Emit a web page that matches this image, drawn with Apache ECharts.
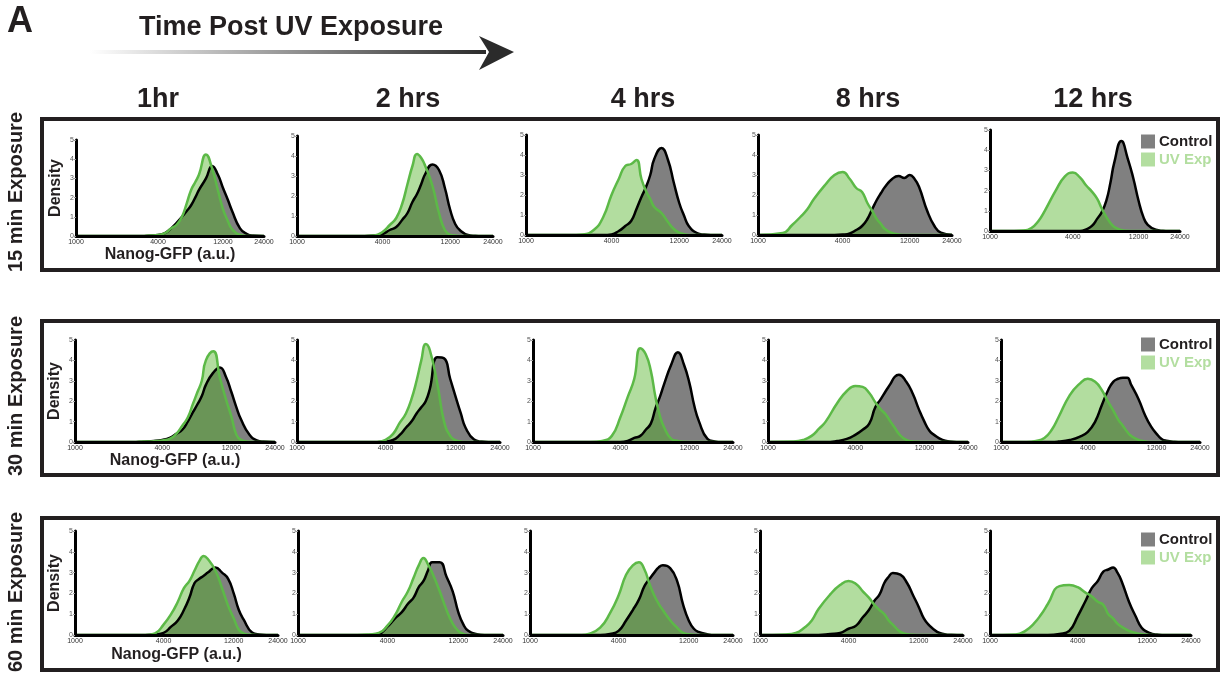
<!DOCTYPE html>
<html>
<head>
<meta charset="utf-8">
<script src="https://cdn.jsdelivr.net/npm/echarts@6/dist/echarts.min.js"></script>
<style>
html, body { margin: 0; padding: 0; background: #fff; }
#chart { width: 1225px; height: 675px; }
</style>
</head>
<body>
<div id="chart"></div>
<script>
var myChart = echarts.init(document.getElementById('chart'));

// Nanog-GFP values at which the densities were read (a.u.)
var gfpGrid = [1000, 1500, 1750, 2000, 2250, 2500, 3000, 3500, 4000, 4500, 5000, 5500, 6000, 6500,
    7000, 7500, 8000, 9000, 10000, 11000, 12000, 13000, 14000, 16000, 18000, 20000, 24000];
var xTicks = [1000, 4000, 12000, 24000];
var timeLabels = ['1hr', '2 hrs', '4 hrs', '8 hrs', '12 hrs'];
var doseLabels = ['15 min Exposure', '30 min Exposure', '60 min Exposure'];
var seriesNames = ['Control', 'UV Exp'];

// 15 min exposure
var ctl15_1h = [0,0,0,0,0,0,0,0.02,0.05,0.15,0.4,0.7,1.0,1.3,1.6,2.0,2.4,3.0,3.65,3.2,2.5,1.9,1.3,0.4,0.1,0.02,0];
var uv15_1h = [0,0,0,0,0,0,0,0.02,0.05,0.15,0.4,0.6,1.0,1.7,2.4,2.8,3.2,4.25,3.5,2.4,1.4,0.8,0.35,0.05,0,0,0];
var ctl15_2h = [0,0,0,0,0,0,0,0.02,0.1,0.3,0.45,0.8,1.15,1.7,2.1,2.6,3.1,3.58,3.3,2.4,1.3,0.6,0.3,0.05,0.01,0,0];
var uv15_2h = [0,0,0,0,0,0,0,0.02,0.2,0.55,0.9,1.6,2.6,3.5,4.1,3.9,3.5,2.5,1.15,0.3,0.06,0.02,0,0,0,0,0];
var ctl15_4h = [0,0,0,0,0,0,0,0,0.03,0.2,0.45,0.7,1.3,1.9,2.4,3.0,3.8,4.35,3.75,2.6,1.6,0.95,0.45,0.1,0.02,0,0];
var uv15_4h = [0,0,0,0,0,0.02,0.25,0.9,2.0,2.8,3.45,3.55,3.75,2.8,2.2,1.8,1.4,1.1,0.65,0.3,0.12,0.04,0,0,0,0,0];
var ctl15_8h = [0,0,0,0,0,0,0,0,0.02,0.08,0.25,0.45,0.8,1.3,1.75,2.1,2.4,2.8,2.95,2.85,3.0,2.8,2.4,1.2,0.45,0.12,0.01];
var uv15_8h = [0,0.1,0.5,0.9,1.3,1.8,2.5,3.0,3.15,2.8,2.35,2.15,1.6,1.2,0.8,0.55,0.3,0.1,0.03,0,0,0,0,0,0,0,0];
var ctl15_12h = [0,0,0,0,0,0,0,0,0,0,0.08,0.25,0.6,0.95,1.5,2.4,3.4,4.45,3.6,2.6,1.5,0.7,0.3,0.06,0.01,0,0];
var uv15_12h = [0,0,0.02,0.15,0.5,1.0,2.0,2.7,2.9,2.65,2.25,1.95,1.6,1.1,0.7,0.4,0.2,0.05,0.01,0,0,0,0,0,0,0,0];

// 30 min exposure
var ctl30_1h = [0,0,0,0,0,0,0.03,0.05,0.1,0.2,0.4,0.6,1.0,1.45,1.85,2.25,2.8,3.4,3.65,3.2,2.45,1.7,1.1,0.35,0.08,0.02,0];
var uv30_1h = [0,0,0,0,0,0,0.02,0.04,0.08,0.15,0.4,0.8,1.2,1.85,2.45,3.0,4.0,4.45,3.15,2.1,1.25,0.35,0.1,0.01,0,0,0];
var ctl30_2h = [0,0,0,0,0,0,0,0,0.03,0.1,0.35,0.7,1.0,1.4,1.7,2.0,2.6,4.15,4.1,3.1,2.2,1.4,0.7,0.12,0.02,0,0];
var uv30_2h = [0,0,0,0,0,0,0,0,0.1,0.4,0.95,1.4,2.1,3.0,4.0,4.8,4.5,2.85,1.0,0.3,0.08,0.02,0,0,0,0,0];
var ctl30_4h = [0,0,0,0,0,0,0,0,0,0.05,0.2,0.3,0.6,0.9,1.65,2.2,2.8,3.8,4.4,3.8,2.9,1.75,1.0,0.15,0.03,0,0];
var uv30_4h = [0,0,0,0,0,0,0.05,0.3,1.2,2.2,3.1,4.6,4.3,3.5,2.2,1.3,0.75,0.15,0.05,0.01,0,0,0,0,0,0,0];
var ctl30_8h = [0,0,0,0,0,0,0.05,0.15,0.35,0.6,0.9,1.7,2.1,2.5,2.85,3.2,3.3,2.95,2.35,1.6,1.0,0.55,0.35,0.1,0.02,0,0];
var uv30_8h = [0,0.02,0.1,0.3,0.65,1.0,1.9,2.5,2.75,2.7,2.4,1.95,1.6,1.35,1.0,0.7,0.4,0.1,0.03,0.01,0,0,0,0,0,0,0];
var ctl30_12h = [0,0,0,0,0,0.02,0.1,0.25,0.5,1.0,1.8,2.5,2.95,3.1,3.15,3.15,2.8,2.1,1.3,0.75,0.4,0.15,0.06,0.01,0,0,0];
var uv30_12h = [0,0,0.05,0.2,0.6,1.2,2.3,2.85,3.1,2.95,2.55,2.0,1.55,1.1,0.8,0.5,0.3,0.1,0.03,0,0,0,0,0,0,0,0];

// 60 min exposure
var ctl60_1h = [0,0,0,0,0,0,0,0.03,0.1,0.4,0.7,1.2,1.8,2.5,2.7,2.85,3.0,3.25,3.0,2.7,2.0,1.2,0.75,0.12,0.02,0,0];
var uv60_1h = [0,0,0,0,0,0,0,0.08,0.5,1.0,1.6,2.25,2.6,3.1,3.55,3.8,3.65,3.1,2.25,1.4,0.8,0.25,0.08,0.01,0,0,0];
var ctl60_2h = [0,0,0,0,0,0,0,0.05,0.4,0.8,1.1,1.5,1.8,2.3,2.6,3.1,3.5,3.5,2.8,2.1,1.1,0.5,0.2,0.04,0,0,0];
var uv60_2h = [0,0,0,0,0,0,0.03,0.1,0.45,0.95,1.6,2.1,2.75,3.35,3.7,3.4,3.0,2.1,1.2,0.55,0.2,0.05,0,0,0,0,0];
var ctl60_4h = [0,0,0,0,0,0,0,0.05,0.2,0.7,1.2,1.7,2.35,2.7,3.0,3.25,3.35,3.2,2.6,1.45,0.7,0.3,0.15,0.04,0,0,0];
var uv60_4h = [0,0,0,0,0,0.05,0.35,1.05,1.9,2.9,3.35,3.5,3.15,2.45,1.9,1.5,1.2,0.7,0.35,0.1,0.04,0.01,0,0,0,0,0];
var ctl60_8h = [0,0,0,0,0,0,0.05,0.1,0.3,0.45,0.85,1.2,1.65,1.95,2.5,2.8,2.98,2.9,2.5,1.9,1.35,0.8,0.5,0.15,0.04,0.01,0];
var uv60_8h = [0,0.03,0.1,0.35,0.7,1.25,1.95,2.4,2.6,2.45,2.1,1.8,1.45,1.2,1.0,0.7,0.5,0.15,0.04,0.01,0,0,0,0,0,0,0];
var ctl60_12h = [0,0,0,0,0,0,0.05,0.2,0.9,1.6,2.25,2.6,3.05,3.15,3.25,3.0,2.6,1.6,0.9,0.35,0.15,0.05,0.02,0,0,0,0];
var uv60_12h = [0,0.03,0.2,0.55,1.0,1.5,2.35,2.4,2.3,2.05,1.85,1.6,1.45,1.0,0.8,0.55,0.4,0.2,0.1,0.04,0.01,0,0,0,0,0,0];

var controlSets = [
    [ctl15_1h, ctl15_2h, ctl15_4h, ctl15_8h, ctl15_12h],
    [ctl30_1h, ctl30_2h, ctl30_4h, ctl30_8h, ctl30_12h],
    [ctl60_1h, ctl60_2h, ctl60_4h, ctl60_8h, ctl60_12h]
];
var uvSets = [
    [uv15_1h, uv15_2h, uv15_4h, uv15_8h, uv15_12h],
    [uv30_1h, uv30_2h, uv30_4h, uv30_8h, uv30_12h],
    [uv60_1h, uv60_2h, uv60_4h, uv60_8h, uv60_12h]
];

// panel placement [left, top, width, height]
var gridPos = [
    [[76, 140, 188, 96], [297, 136, 196, 100], [526, 135, 196, 100], [758, 135, 194, 100], [990, 130, 190, 101]],
    [[75, 340, 200, 102], [297, 340, 203, 102], [533, 340, 200, 102], [768, 340, 200, 102], [1001, 340, 199, 102]],
    [[75, 531, 203, 104], [298, 531, 205, 104], [530, 531, 203, 104], [760, 531, 203, 104], [990, 531, 201, 104]]
];
var boxTops = [119, 321, 518];
var boxBottoms = [270, 475, 670];
var rowCenters = [192, 396, 592];
var nameGaps = [8, 10, 12];
var legendTops = [129, 332, 527];
var colCenters = [158, 408, 643, 868, 1093];

var FONT = '"Liberation Sans", Arial, Helvetica, sans-serif';

var grids = [], xAxes = [], yAxes = [], series = [];
for (var r = 0; r < 3; r++) {
    for (var c = 0; c < 5; c++) {
        var idx = r * 5 + c;
        var p = gridPos[r][c];
        grids.push({ left: p[0], top: p[1], width: p[2], height: p[3] });
        xAxes.push({
            gridIndex: idx,
            type: 'value',
            min: 3,
            max: Math.log10(24000),
            z: 5,
            name: c === 0 ? 'Nanog-GFP (a.u.)' : '',
            nameLocation: 'middle',
            nameGap: nameGaps[r],
            nameTextStyle: { fontFamily: FONT, fontWeight: 'bold', fontSize: 16, color: '#231f20', verticalAlign: 'top' },
            axisLine: { lineStyle: { color: '#000', width: 3 } },
            axisTick: { show: false },
            splitLine: { show: false },
            axisLabel: {
                customValues: xTicks.map(function (t) { return Math.log10(t); }),
                formatter: function (v) { return String(Math.round(Math.pow(10, v))); },
                fontFamily: FONT,
                fontSize: 7,
                color: '#333',
                margin: 3
            }
        });
        yAxes.push({
            gridIndex: idx,
            type: 'value',
            min: 0,
            max: 5,
            interval: 1,
            z: 5,
            name: c === 0 ? 'Density' : '',
            nameLocation: 'middle',
            nameGap: 12,
            nameTextStyle: { fontFamily: FONT, fontWeight: 'bold', fontSize: 16, color: '#231f20' },
            axisLine: { show: true, lineStyle: { color: '#000', width: 3 } },
            axisTick: { show: true, length: 2, lineStyle: { color: '#999', width: 1 } },
            splitLine: { show: false },
            axisLabel: { fontFamily: FONT, fontSize: 7, color: '#555', margin: 2 }
        });
        var ctl = controlSets[r][c], uv = uvSets[r][c];
        series.push({
            name: seriesNames[0],
            type: 'line',
            xAxisIndex: idx,
            yAxisIndex: idx,
            smooth: 0.5,
            symbol: 'none',
            itemStyle: { color: '#808080' },
            lineStyle: { color: '#000', width: 2.5 },
            areaStyle: { color: '#808080', opacity: 1 },
            data: gfpGrid.map(function (g, i) { return [Math.log10(g), ctl[i]]; })
        });
        series.push({
            name: seriesNames[1],
            type: 'line',
            xAxisIndex: idx,
            yAxisIndex: idx,
            smooth: 0.5,
            symbol: 'none',
            itemStyle: { color: '#b3dea0' },
            lineStyle: { color: '#5cb947', width: 2.5 },
            areaStyle: { color: 'rgba(76,177,32,0.43)', opacity: 1 },
            data: gfpGrid.map(function (g, i) { return [Math.log10(g), uv[i]]; })
        });
    }
}

var legends = legendTops.map(function (t) {
    return {
        left: 1136,
        top: t,
        orient: 'vertical',
        icon: 'rect',
        itemWidth: 14,
        itemHeight: 14,
        itemGap: 3,
        selectedMode: false,
        itemStyle: { borderWidth: 0 },
        textStyle: { fontFamily: FONT, fontWeight: 'bold', fontSize: 15, color: '#231f20', padding: [0, 0, 0, -1] },
        data: [
            { name: seriesNames[0], itemStyle: { color: '#808080' } },
            { name: seriesNames[1], itemStyle: { color: '#b3dea0' }, textStyle: { color: '#b3dea0' } }
        ]
    };
});

var graphics = [];
// row frames and row labels
for (var k = 0; k < 3; k++) {
    graphics.push({
        type: 'rect',
        shape: { x: 42, y: boxTops[k], width: 1176, height: boxBottoms[k] - boxTops[k] },
        style: { fill: 'none', stroke: '#231f20', lineWidth: 4 },
        z: 10
    });
    graphics.push({
        type: 'text',
        x: 16,
        y: rowCenters[k],
        rotation: Math.PI / 2,
        style: {
            text: doseLabels[k],
            font: 'bold 20px ' + FONT,
            fill: '#231f20',
            textAlign: 'center',
            textVerticalAlign: 'middle'
        }
    });
}
// column headers
timeLabels.forEach(function (t, i) {
    graphics.push({
        type: 'text',
        x: colCenters[i],
        y: 100,
        style: { text: t, font: 'bold 27px ' + FONT, fill: '#231f20', textAlign: 'center', textVerticalAlign: 'middle' }
    });
});
// panel letter, arrow title and arrow
graphics.push({
    type: 'text', x: 7, y: 22,
    style: { text: 'A', font: 'bold 36px ' + FONT, fill: '#231f20', textVerticalAlign: 'middle' }
});
graphics.push({
    type: 'text', x: 291, y: 28,
    style: { text: 'Time Post UV Exposure', font: 'bold 27px ' + FONT, fill: '#231f20', textAlign: 'center', textVerticalAlign: 'middle' }
});
graphics.push({
    type: 'rect',
    shape: { x: 90, y: 50, width: 396, height: 4 },
    style: {
        fill: new echarts.graphic.LinearGradient(0, 0, 1, 0, [
            { offset: 0, color: 'rgba(255,255,255,1)' },
            { offset: 1, color: '#2b2b2b' }
        ])
    }
});
graphics.push({
    type: 'polygon',
    shape: { points: [[479, 36], [514, 52], [479, 70], [489, 52]] },
    style: { fill: '#2b2b2b' }
});

option = {
    backgroundColor: '#fff',
    animation: false,
    grid: grids,
    xAxis: xAxes,
    yAxis: yAxes,
    legend: legends,
    graphic: graphics,
    series: series
};

myChart.setOption(option);
</script>
</body>
</html>
